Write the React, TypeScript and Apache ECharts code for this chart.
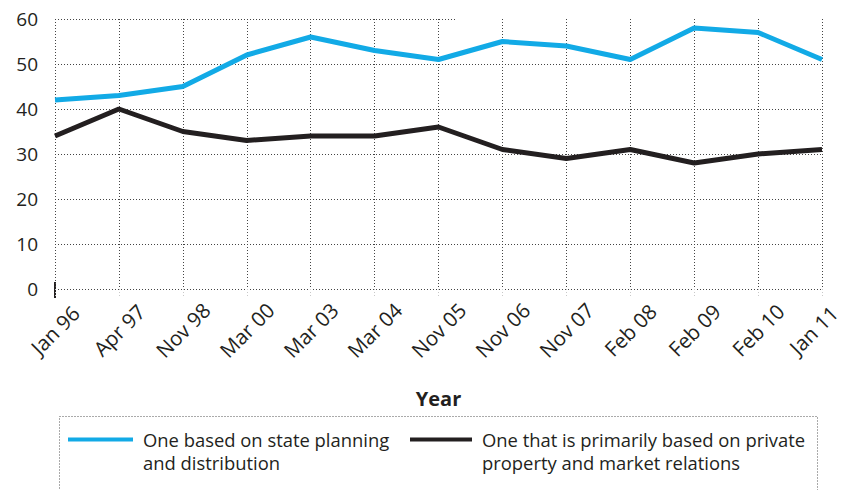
import React, { useEffect, useRef } from "react";
import * as echarts from "echarts";

const categories = ["Jan 96", "Apr 97", "Nov 98", "Mar 00", "Mar 03", "Mar 04", "Nov 05", "Nov 06", "Nov 07", "Feb 08", "Feb 09", "Feb 10", "Jan 11"];
const statePlanning = [42, 43, 45, 52, 56, 53, 51, 55, 54, 51, 58, 57, 51];
const privateProperty = [34, 40, 35, 33, 34, 34, 36, 31, 29, 31, 28, 30, 31];
const seriesNames = [
  "One based on state planning\nand distribution",
  "One that is primarily based on private\nproperty and market relations",
];
const yMin = 0;
const yMax = 60;
const yInterval = 10;

const FONT = "Open Sans";
const FS = 18.4;
const XFS = 20.5;
const TEXT = "#231f20";
const BLUE = "#12aae6";
const DARK = "#231f20";

const legendFormatter = (name: string) =>
  "{t|}\n" + name.split("\n").map((s) => "{t|" + s + "}").join("\n");

export default function App() {
  const ref = useRef<HTMLDivElement>(null);
  useEffect(() => {
    if (!ref.current) return;
    const chart = echarts.init(ref.current, undefined, { renderer: "svg" });
    const legendText = {
      fontFamily: FONT,
      fontSize: FS,
      color: TEXT,
      lineHeight: 23,
      rich: {
        t: { fontFamily: FONT, fontSize: FS, color: TEXT, lineHeight: 23, padding: [0, 0, 0, 5] },
      },
    };
    chart.setOption({
      animation: false,
      textStyle: { fontFamily: FONT },
      grid: { left: 55, right: 23, top: 19, bottom: 201, containLabel: false, outerBoundsMode: "none" },
      xAxis: {
        type: "category",
        data: categories,
        boundaryGap: false,
        name: "Year",
        nameLocation: "middle",
        nameGap: 99,
        nameTextStyle: { fontFamily: FONT, fontSize: 20, fontWeight: "bold", color: TEXT },
        axisLine: { show: false },
        axisTick: { show: true, length: 9, lineStyle: { color: "#c8c8c8", type: [1, 2] } },
        axisLabel: {
          rotate: 45,
          align: "center",
          verticalAlign: "middle",
          margin: 41,
          fontFamily: FONT,
          fontSize: XFS,
          color: TEXT,
          interval: 0,
          formatter: (value: string, index: number) =>
            index === categories.length - 1 ? "{e|" + value + "}" : value,
          rich: {
            e: { fontFamily: FONT, fontSize: XFS, color: TEXT, padding: [0, 12, 12, 0] },
          },
        },
        splitLine: { show: true, lineStyle: { color: "#444", width: 1, type: [1, 2] } },
      },
      yAxis: {
        type: "value",
        min: yMin,
        max: yMax,
        interval: yInterval,
        axisLine: { show: false },
        axisTick: { show: false },
        axisLabel: { fontFamily: FONT, fontSize: 19, color: TEXT, margin: 17 },
        splitLine: { show: true, showMaxLine: false, lineStyle: { color: "#444", width: 1, type: [1, 2] } },
      },
      legend: [
        {
          data: [seriesNames[0]],
          left: 68,
          top: 405,
          padding: 0,
          icon: "rect",
          itemWidth: 65,
          itemHeight: 4,
          formatter: legendFormatter,
          textStyle: legendText,
        },
        {
          data: [seriesNames[1]],
          left: 410,
          top: 405,
          padding: 0,
          icon: "rect",
          itemWidth: 62,
          itemHeight: 4,
          formatter: legendFormatter,
          textStyle: legendText,
        },
      ],
      series: [
        {
          name: seriesNames[0],
          type: "line",
          data: statePlanning,
          symbol: "none",
          lineStyle: { color: BLUE, width: 5 },
          itemStyle: { color: BLUE },
        },
        {
          name: seriesNames[1],
          type: "line",
          data: privateProperty,
          symbol: "none",
          lineStyle: { color: DARK, width: 5 },
          itemStyle: { color: DARK },
        },
      ],
      graphic: [
        {
          type: "line",
          shape: { x1: 55, y1: 19.5, x2: 457, y2: 19.5 },
          style: { stroke: "#444", lineWidth: 1, lineDash: [1, 2] },
          silent: true,
        },
        {
          type: "line",
          shape: { x1: 55, y1: 282, x2: 55, y2: 298 },
          style: { stroke: DARK, lineWidth: 2 },
          silent: true,
        },
        {
          type: "rect",
          shape: { x: 59.5, y: 416.5, width: 758, height: 100 },
          style: { fill: "none", stroke: "#555", lineWidth: 1, lineDash: [1, 2] },
          silent: true,
        },
      ],
    });
    return () => chart.dispose();
  }, []);
  return (
    <div
      ref={ref}
      style={{ position: "fixed", left: 0, top: 0, width: 845, height: 490, background: "#fff" }}
    />
  );
}
